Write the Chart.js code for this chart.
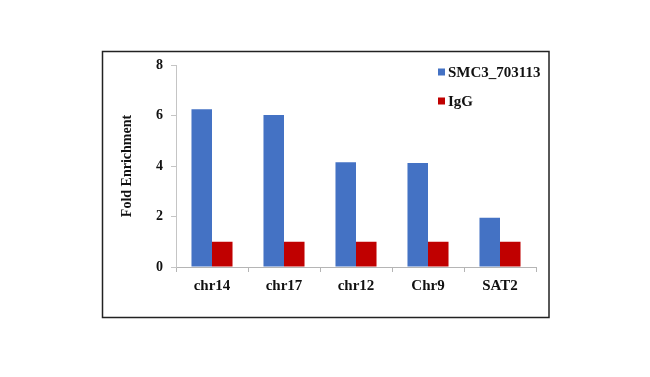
<!DOCTYPE html>
<html><head><meta charset="utf-8">
<script src="https://cdn.jsdelivr.net/npm/chart.js@4/dist/chart.umd.min.js"></script>
<style>html,body{margin:0;padding:0;background:#fff;}#wrap{position:absolute;left:0;top:0;width:650px;height:377px;}</style>
</head><body>
<div id="wrap"><canvas id="c" width="650" height="377"></canvas></div>
<script>
const categories = ['chr14', 'chr17', 'chr12', 'Chr9', 'SAT2'];
const smc3Values = [6.25, 6.02, 4.15, 4.12, 1.95];
const iggValues = [1.0, 1.0, 1.0, 1.0, 1.0];
const yTicks = [0, 2, 4, 6, 8];
const seriesNames = ['SMC3_703113', 'IgG'];

const FONT = "'Liberation Serif', 'Times New Roman', serif";

const framePlugin = {
  id: 'frame',
  beforeDraw(chart) {
    const ctx = chart.ctx;
    ctx.save();
    ctx.fillStyle = '#fff';
    ctx.fillRect(0, 0, chart.width, chart.height);
    ctx.strokeStyle = '#222';
    ctx.lineWidth = 1.5;
    ctx.strokeRect(102.5, 51.5, 446.5, 266);
    ctx.restore();
  },
  afterDraw(chart) {
    const ctx = chart.ctx;
    ctx.save();
    ctx.font = 'bold 15px ' + FONT;
    ctx.textBaseline = 'middle';
    const ys = [72, 101];
    chart.data.datasets.forEach((ds, i) => {
      ctx.fillStyle = ds.backgroundColor;
      ctx.fillRect(438, ys[i] - 3.5, 7, 7);
      ctx.fillStyle = '#111';
      ctx.fillText(ds.label, 448, ys[i] + 1);
    });
    ctx.restore();
  }
};

new Chart(document.getElementById('c'), {
  type: 'bar',
  data: {
    labels: categories,
    datasets: [
      { label: seriesNames[0], data: smc3Values, backgroundColor: '#4472C4', categoryPercentage: 0.57, barPercentage: 1.0 },
      { label: seriesNames[1], data: iggValues, backgroundColor: '#C00000', categoryPercentage: 0.57, barPercentage: 1.0 }
    ]
  },
  options: {
    responsive: false,
    animation: false,
    devicePixelRatio: 1,
    layout: { padding: { left: 110, right: 114, top: 65, bottom: 70 } },
    plugins: { legend: { display: false }, tooltip: { enabled: false } },
    scales: {
      x: {
        grid: { display: true, drawOnChartArea: false, drawTicks: true, tickLength: 5, color: '#b5b5b5', offset: true },
        border: { color: '#b5b5b5', width: 1 },
        ticks: { color: '#111', font: { family: FONT, size: 15, weight: 'bold' }, padding: 5 },
        afterFit(s) { s.height = 40; }
      },
      y: {
        min: 0, max: 8,
        afterBuildTicks(s) { s.ticks = yTicks.map(v => ({ value: v })); },
        grid: { display: true, drawOnChartArea: false, drawTicks: true, tickLength: 5, color: '#c5c5c5' },
        border: { color: '#c5c5c5', width: 1 },
        ticks: { color: '#111', font: { family: FONT, size: 14, weight: 'bold' }, padding: 8 },
        title: { display: true, text: 'Fold Enrichment', color: '#111', font: { family: FONT, size: 14, weight: 'bold' }, padding: { top: 9, bottom: 0 } },
        afterFit(s) { s.width = 66; }
      }
    }
  },
  plugins: [framePlugin]
});
</script>
</body></html>
